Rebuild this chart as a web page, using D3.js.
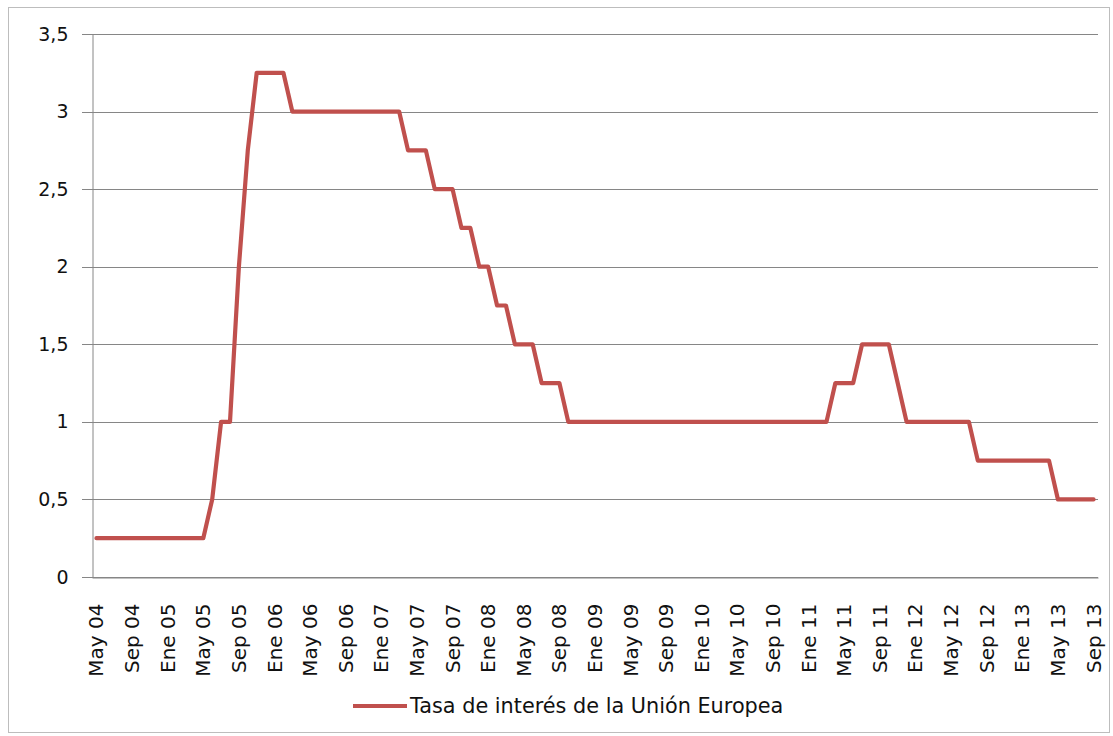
<!DOCTYPE html>
<html>
<head>
<meta charset="utf-8">
<script src="https://cdn.jsdelivr.net/npm/d3@7"></script>
<style>
  body { margin: 0; background: #fff; }
  svg { display: block; }
  text { font-family: "DejaVu Sans", "Open Sans", sans-serif; fill: #111; }
</style>
</head>
<body>
<svg id="chart" width="1113" height="736"></svg>
<script>
// monthly categories May 04 .. Sep 13
const monthNames = ["Ene", "Feb", "Mar", "Abr", "May", "Jun", "Jul", "Ago", "Sep", "Oct", "Nov", "Dic"];
const startYear = 2004;
const startMonth = 4; // May

const rates = [
  0.25, 0.25, 0.25, 0.25, 0.25, 0.25, 0.25, 0.25, 0.25, 0.25, 0.25, 0.25, 0.25,
  0.5, 1, 1, 2, 2.75,
  3.25, 3.25, 3.25, 3.25,
  3, 3, 3, 3, 3, 3, 3, 3, 3, 3, 3, 3, 3,
  2.75, 2.75, 2.75,
  2.5, 2.5, 2.5,
  2.25, 2.25,
  2, 2,
  1.75, 1.75,
  1.5, 1.5, 1.5,
  1.25, 1.25, 1.25,
  1, 1, 1, 1, 1, 1, 1, 1, 1, 1, 1, 1, 1, 1, 1, 1, 1, 1, 1, 1, 1, 1, 1, 1, 1, 1, 1, 1, 1, 1,
  1.25, 1.25, 1.25,
  1.5, 1.5, 1.5, 1.5,
  1.25,
  1, 1, 1, 1, 1, 1, 1, 1,
  0.75, 0.75, 0.75, 0.75, 0.75, 0.75, 0.75, 0.75, 0.75,
  0.5, 0.5, 0.5, 0.5, 0.5
];

const yTicks = [0, 0.5, 1, 1.5, 2, 2.5, 3, 3.5];
const seriesName = "Tasa de interés de la Unión Europea";

const categories = rates.map((_, i) => {
  const m = startMonth + i;
  const yy = (startYear + Math.floor(m / 12)) % 100;
  return monthNames[m % 12] + " " + String(yy).padStart(2, "0");
});

const svg = d3.select("#chart");
const lineColor = "#C0504D";
const gridColor = "#868686";

// outer border
svg.append("rect")
  .attr("x", 8.5).attr("y", 7.5)
  .attr("width", 1101).attr("height", 725)
  .attr("fill", "none")
  .attr("stroke", "#bdbdbd");

const plotLeft = 92, plotRight = 1098, plotTop = 34, plotBottom = 577;

const x = d3.scaleBand()
  .domain(categories)
  .range([plotLeft, plotRight])
  .padding(0);

const y = d3.scaleLinear()
  .domain([0, 3.5])
  .range([plotBottom, plotTop]);

// gridlines
svg.append("g")
  .selectAll("line")
  .data(yTicks)
  .enter()
  .append("line")
  .attr("x1", plotLeft - 10)
  .attr("x2", plotRight)
  .attr("y1", d => Math.round(y(d)) + 0.5)
  .attr("y2", d => Math.round(y(d)) + 0.5)
  .attr("stroke", gridColor)
  .attr("stroke-width", 1);

// y axis
const yAxis = svg.append("g")
  .attr("transform", `translate(${plotLeft + 0.5},0)`)
  .call(d3.axisLeft(y)
    .tickValues(yTicks)
    .tickSize(0)
    .tickPadding(24)
    .tickFormat(d => String(d).replace(".", ",")));
yAxis.select(".domain").attr("stroke", gridColor);
yAxis.selectAll("text")
  .style("font-size", "19px");

// x axis
const xAxis = svg.append("g")
  .attr("transform", `translate(0,${Math.round(plotBottom) + 0.5})`)
  .call(d3.axisBottom(x)
    .tickValues(categories.filter((_, i) => i % 4 === 0))
    .tickSize(0)
    .tickPadding(0));
xAxis.select(".domain").attr("stroke", gridColor);
xAxis.selectAll("text")
  .style("font-size", "20px")
  .attr("text-anchor", "end")
  .attr("dy", "0.35em")
  .attr("transform", "translate(0,26) rotate(-90)")
  .attr("x", 0)
  .attr("y", 0);

// the series line
const line = d3.line()
  .x((d, i) => x(categories[i]) + x.bandwidth() / 2)
  .y(d => y(d));

svg.append("path")
  .datum(rates)
  .attr("d", line)
  .attr("fill", "none")
  .attr("stroke", lineColor)
  .attr("stroke-width", 4.2)
  .attr("stroke-linejoin", "round")
  .attr("stroke-linecap", "round");

// legend
const legend = svg.append("g").attr("transform", "translate(353,706)");
legend.append("line")
  .attr("x1", 0).attr("x2", 54)
  .attr("stroke", lineColor)
  .attr("stroke-width", 4);
legend.append("text")
  .attr("x", 57)
  .attr("dy", "0.35em")
  .style("font-size", "20.8px")
  .text(seriesName);
</script>
</body>
</html>
